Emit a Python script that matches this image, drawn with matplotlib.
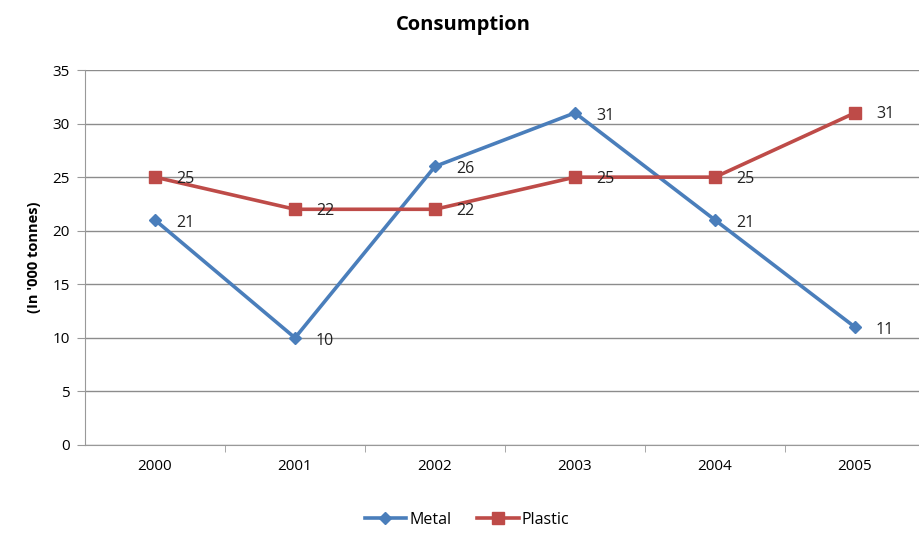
import matplotlib

matplotlib.use("Agg")
import matplotlib.pyplot as plt
import numpy as np

years = ["2000", "2001", "2002", "2003", "2004", "2005"]
metal = [21, 10, 26, 31, 21, 11]
plastic = [25, 22, 22, 25, 25, 31]

BLUE = "#4a7ebb"
RED = "#be4b48"

plt.rcParams["font.family"] = ["Open Sans", "DejaVu Sans"]

fig = plt.figure(figsize=(9.2, 5.34), dpi=100)
ax = fig.add_axes([85 / 920, 1 - 445 / 534, 840 / 920, 375 / 534])

x = np.arange(len(years))
ax.plot(x, metal, color=BLUE, lw=2.6, marker="D", ms=6.5, label="Metal", zorder=3)
ax.plot(x, plastic, color=RED, lw=2.6, marker="s", ms=8.5, label="Plastic", zorder=3)

for xi, v in zip(x, metal):
    ax.annotate(str(v), (xi, v), xytext=(15, -2), textcoords="offset points",
                va="center", ha="left", fontsize=11.5, color="#222222")
for xi, v in zip(x, plastic):
    ax.annotate(str(v), (xi, v), xytext=(15, -1), textcoords="offset points",
                va="center", ha="left", fontsize=11.5, color="#222222")

ax.set_xlim(-0.5, 5.5)
ax.set_ylim(0, 35)
ax.set_yticks(range(0, 36, 5))
ax.set_xticks(x)
ax.set_xticklabels(years)
ax.set_xticks(np.arange(0.5, 5.5, 1), minor=True)
ax.tick_params(axis="x", which="major", length=0, pad=10, labelsize=11)
ax.tick_params(axis="x", which="minor", length=5, color="#999999")
ax.tick_params(axis="y", length=6, color="#999999", pad=5, labelsize=11)

ax.grid(axis="y", color="#8c8c8c", lw=1)
ax.set_axisbelow(True)
for s in ["top", "right"]:
    ax.spines[s].set_visible(False)
ax.spines["left"].set_color("#999999")
ax.spines["bottom"].set_color("#999999")

ax.set_ylabel("(In '000 tonnes)", fontsize=10.5, fontweight="bold", labelpad=8)
fig.text(463 / 920, 1 - 25 / 534, "Consumption", ha="center", va="center",
         fontsize=14.5, fontweight="bold")

fig.legend(loc="center", bbox_to_anchor=(467 / 920, 1 - 520 / 534), ncol=2,
           frameon=False, fontsize=11.5, handlelength=2.6, columnspacing=1.6,
           handletextpad=0.2)

plt.savefig("out.png", dpi=100, facecolor="white")
plt.close()
